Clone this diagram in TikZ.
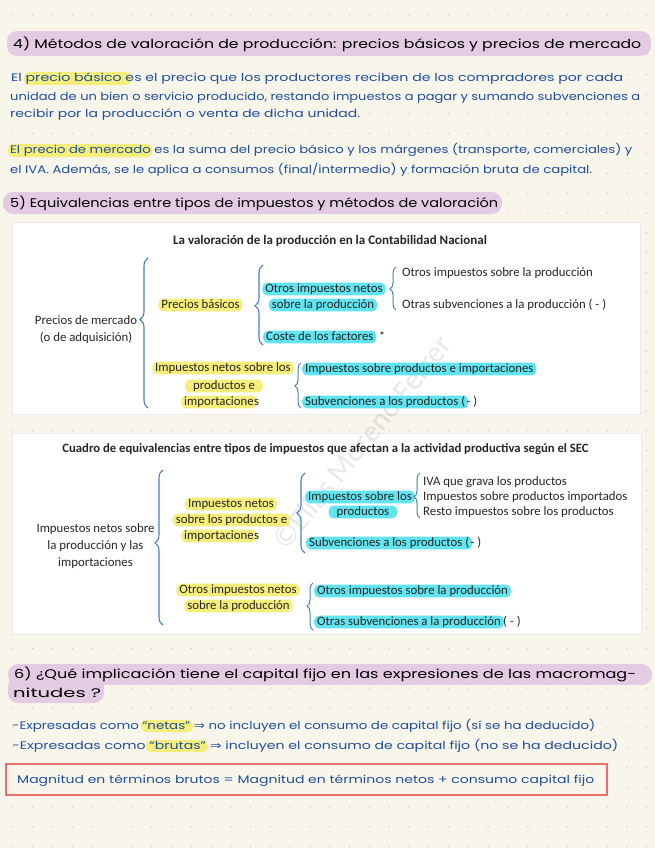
\documentclass[tikz,border=0pt]{standalone}
\usepackage{fontspec}
\usepackage{graphicx}
\setmainfont{Carlito}
\newfontfamily\handfont{Poppins}
\newfontfamily\symfont{DejaVu Sans}
\usetikzlibrary{decorations.pathreplacing}
\definecolor{bg}{HTML}{F8F6EA}
\definecolor{dotc}{HTML}{CCCAC0}
\definecolor{lav}{HTML}{E4CBE4}
\definecolor{ink}{HTML}{1F4E9E}
\definecolor{hly}{HTML}{F6EE7A}
\definecolor{hlc}{HTML}{62E4F0}
\definecolor{brc}{HTML}{4A7EBB}
\definecolor{redb}{HTML}{E8716F}
\definecolor{txt}{HTML}{262626}
\tikzset{
  hand/.style={font=\handfont\fontsize{11}{13}\selectfont, text=ink, inner sep=0pt, anchor=west},
  headtext/.style={hand, text=black, font=\handfont\fontsize{12.5}{14}\selectfont},
  lbl/.style={font=\fontsize{12.8}{15}\selectfont, text=txt, inner xsep=0pt, inner ysep=0.5pt, text height=9pt, text depth=2.8pt},
  hy/.style={lbl, fill=hly, rounded corners=5pt, inner xsep=3pt},
  hc/.style={lbl, fill=hlc, rounded corners=5pt, inner xsep=3pt},
  block/.style={font=\fontsize{12.8}{16.8}\selectfont, text=txt, align=center, inner sep=0pt},
  ttl/.style={font=\bfseries\fontsize{13}{15}\selectfont, text=txt, inner sep=0pt},
  bigbrace/.style={draw=brc, line width=1.1pt, decorate, decoration={brace, amplitude=8pt, #1}},
  smallbrace/.style={draw=brc, line width=1.0pt, decorate, decoration={brace, amplitude=6pt, #1}},
  band/.style={fill=lav, rounded corners=10pt},
  hlband/.style={fill=hly, rounded corners=5pt},
  panel/.style={fill=white, draw=black!8, line width=0.4pt}
}
\begin{document}
\begin{tikzpicture}[x=1pt,y=-1pt]
\useasboundingbox (0,0) rectangle (655,848);
\fill[bg] (0,0) rectangle (655,848);
\foreach \i in {0,...,32} {\foreach \j in {0,...,43} {\fill[dotc] ({13+19.8*\i},{15+19.8*\j}) circle (0.75pt);}}

% ---- heading 4
\fill[band] (7,31) rectangle (651,56);
\node[headtext] (h4) at (13,44) {\resizebox{628pt}{\height}{4) Métodos de valoración de producción: precios básicos y precios de mercado}};

% ---- paragraph 1
\fill[hlband] (24,72) rectangle (131,85);
\node[hand] (p1a) at (11,79) {\resizebox{612pt}{\height}{El precio básico es el precio que los productores reciben de los compradores por cada}};
\node[hand] (p1b) at (10,98) {\resizebox{630pt}{\height}{unidad de un bien o servicio producido, restando impuestos a pagar y sumando subvenciones a}};
\node[hand] (p1c) at (10,115) {\resizebox{350pt}{\height}{recibir por la producción o venta de dicha unidad.}};

% ---- paragraph 2
\fill[hlband] (8,144) rectangle (152,157);
\node[hand] (p2a) at (10,150) {\resizebox{622pt}{\height}{El precio de mercado es la suma del precio básico y los márgenes (transporte, comerciales) y}};
\node[hand] (p2b) at (10,170) {\resizebox{582pt}{\height}{el IVA. Además, se le aplica a consumos (final/intermedio) y formación bruta de capital.}};

% ---- heading 5
\fill[band] (3,192) rectangle (502,214);
\node[headtext] (h5) at (10,203) {\resizebox{488pt}{\height}{5) Equivalencias entre tipos de impuestos y métodos de valoración}};

% ---- panels
\fill[panel] (12,222) rectangle (640,414);
\fill[panel] (12,433) rectangle (641,634);

\node[rotate=51, text=black, opacity=0.09, font=\fontsize{30}{30}\selectfont] (wm) at (362,442) {©Elías Moreno Ferrer};

% ---- panel 1
\node[ttl] (t1) at (330,241) {La valoración de la producción en la Contabilidad Nacional};
\node[block] (pm) at (86,329.5) {Precios de mercado\\(o de adquisición)};
\node[hy] (pb) at (200.5,305) {Precios básicos};
\node[hc] (oinA) at (324,289) {Otros impuestos netos};
\node[hc] (oinB) at (323,305) {sobre la producción};
\node[hc, anchor=west] (cf) at (263,337) {Coste de los factores};
\node[lbl, anchor=base west] (cfs) at ([xshift=2pt]cf.base east) {*};
\node[lbl, anchor=west] (oisp) at (402,273) {Otros impuestos sobre la producción};
\node[lbl, anchor=west] (osp) at (402,305) {Otras subvenciones a la producción ( - )};
\node[hy] (inpA) at (223,368) {Impuestos netos sobre los};
\node[hy, inner xsep=8pt] (inpB) at (224,386) {productos e};
\node[hy, anchor=west] (inpC) at (181,402) {importacione};
\node[lbl, anchor=base west] (inpCs) at ([xshift=-3pt]inpC.base east) {s};
\node[hc, anchor=west] (ispi) at (302,369) {Impuestos sobre productos e importaciones};
\node[hc, anchor=west] (svpA) at (302,402) {Subvenciones a los productos (};
\node[lbl, anchor=base west] (svpB) at ([xshift=-2pt]svpA.base east) { - )};

% braces panel 1
\coordinate (b1s) at (148,408); \coordinate (b1e) at (148,258);
\draw[bigbrace={aspect=0.59}] (b1s) -- (b1e);
\coordinate (b2s) at (263,345); \coordinate (b2e) at (263,265);
\draw[bigbrace={aspect=0.49}] (b2s) -- (b2e);
\coordinate (b3s) at (396,310); \coordinate (b3e) at (396,267);
\draw[smallbrace={aspect=0.49}] (b3s) -- (b3e);
\coordinate (b4s) at (301,408); \coordinate (b4e) at (301,363);
\draw[smallbrace={aspect=0.49}] (b4s) -- (b4e);

% ---- panel 2
\node[ttl, font=\bfseries\fontsize{12.7}{15}\selectfont] (t2) at (325.5,449) {Cuadro de equivalencias entre tipos de impuestos que afectan a la actividad productiva según el SEC};
\node[block] (inpi) at (95.5,546) {Impuestos netos sobre\\la producción y las\\importaciones};
\node[hy] (ipeA) at (231,504) {Impuestos netos};
\node[hy] (ipeB) at (231.5,520) {sobre los productos e};
\node[hy, anchor=west] (ipeC) at (181,536) {importacione};
\node[lbl, anchor=base west] (ipeCs) at ([xshift=-3pt]ipeC.base east) {s};
\node[hc] (islA) at (360,497) {Impuestos sobre los};
\node[hc, inner xsep=8pt] (islB) at (363,512) {productos};
\node[lbl, anchor=west] (iva) at (423,482) {IVA que grava los productos};
\node[lbl, anchor=west] (ispim) at (423,497) {Impuestos sobre productos importados};
\node[lbl, anchor=west] (resto) at (423,512) {Resto impuestos sobre los productos};
\node[hc, anchor=west] (svp2A) at (306,543) {Subvenciones a los productos (};
\node[lbl, anchor=base west] (svp2B) at ([xshift=-2pt]svp2A.base east) { - )};
\node[hy] (oin3A) at (238,590) {Otros impuestos netos};
\node[hy] (oin3B) at (238.5,606) {sobre la producción};
\node[hc, anchor=west] (oisp2) at (314,591) {Otros impuestos sobre la producción};
\node[hc, anchor=west] (osp2A) at (314,622) {Otras subvenciones a la producción};
\node[lbl, anchor=base west] (osp2B) at ([xshift=-1pt]osp2A.base east) { ( - )};

% braces panel 2
\coordinate (b5s) at (163,625); \coordinate (b5e) at (163,470);
\draw[bigbrace={aspect=0.53}] (b5s) -- (b5e);
\coordinate (b6s) at (305,553); \coordinate (b6e) at (305,473);
\draw[bigbrace={aspect=0.5}] (b6s) -- (b6e);
\coordinate (b7s) at (420,518); \coordinate (b7e) at (420,473);
\draw[smallbrace={aspect=0.47}] (b7s) -- (b7e);
\coordinate (b8s) at (313,630); \coordinate (b8e) at (313,583);
\draw[smallbrace={aspect=0.51}] (b8s) -- (b8e);

% ---- heading 6
\fill[band] (8,664) rectangle (652,685);
\fill[band] (8,676) rectangle (104,703);
\node[headtext] (h6a) at (14,674) {\resizebox{622pt}{\height}{6) ¿Qué implicación tiene el capital fijo en las expresiones de las macromag-}};
\node[headtext] (h6b) at (13,693) {\resizebox{88pt}{\height}{nitudes ?}};

% ---- bullets
\fill[hlband] (141,720) rectangle (193,732);
\fill[hlband] (146,740) rectangle (208,752);
\node[hand] (bl1) at (12,726) {\resizebox{583pt}{\height}{-Expresadas como “netas” {\symfont⇒} no incluyen el consumo de capital fijo (sí se ha deducido)}};
\node[hand] (bl2) at (12,746) {\resizebox{606pt}{\height}{-Expresadas como “brutas” {\symfont⇒} incluyen el consumo de capital fijo (no se ha deducido)}};

% ---- red box
\draw[redb, fill=bg, line width=1.3pt] (6,764) rectangle (607,795);
\node[hand] (rb) at (17,781) {\resizebox{577pt}{\height}{Magnitud en términos brutos = Magnitud en términos netos + consumo capital fijo}};
\end{tikzpicture}
\end{document}
